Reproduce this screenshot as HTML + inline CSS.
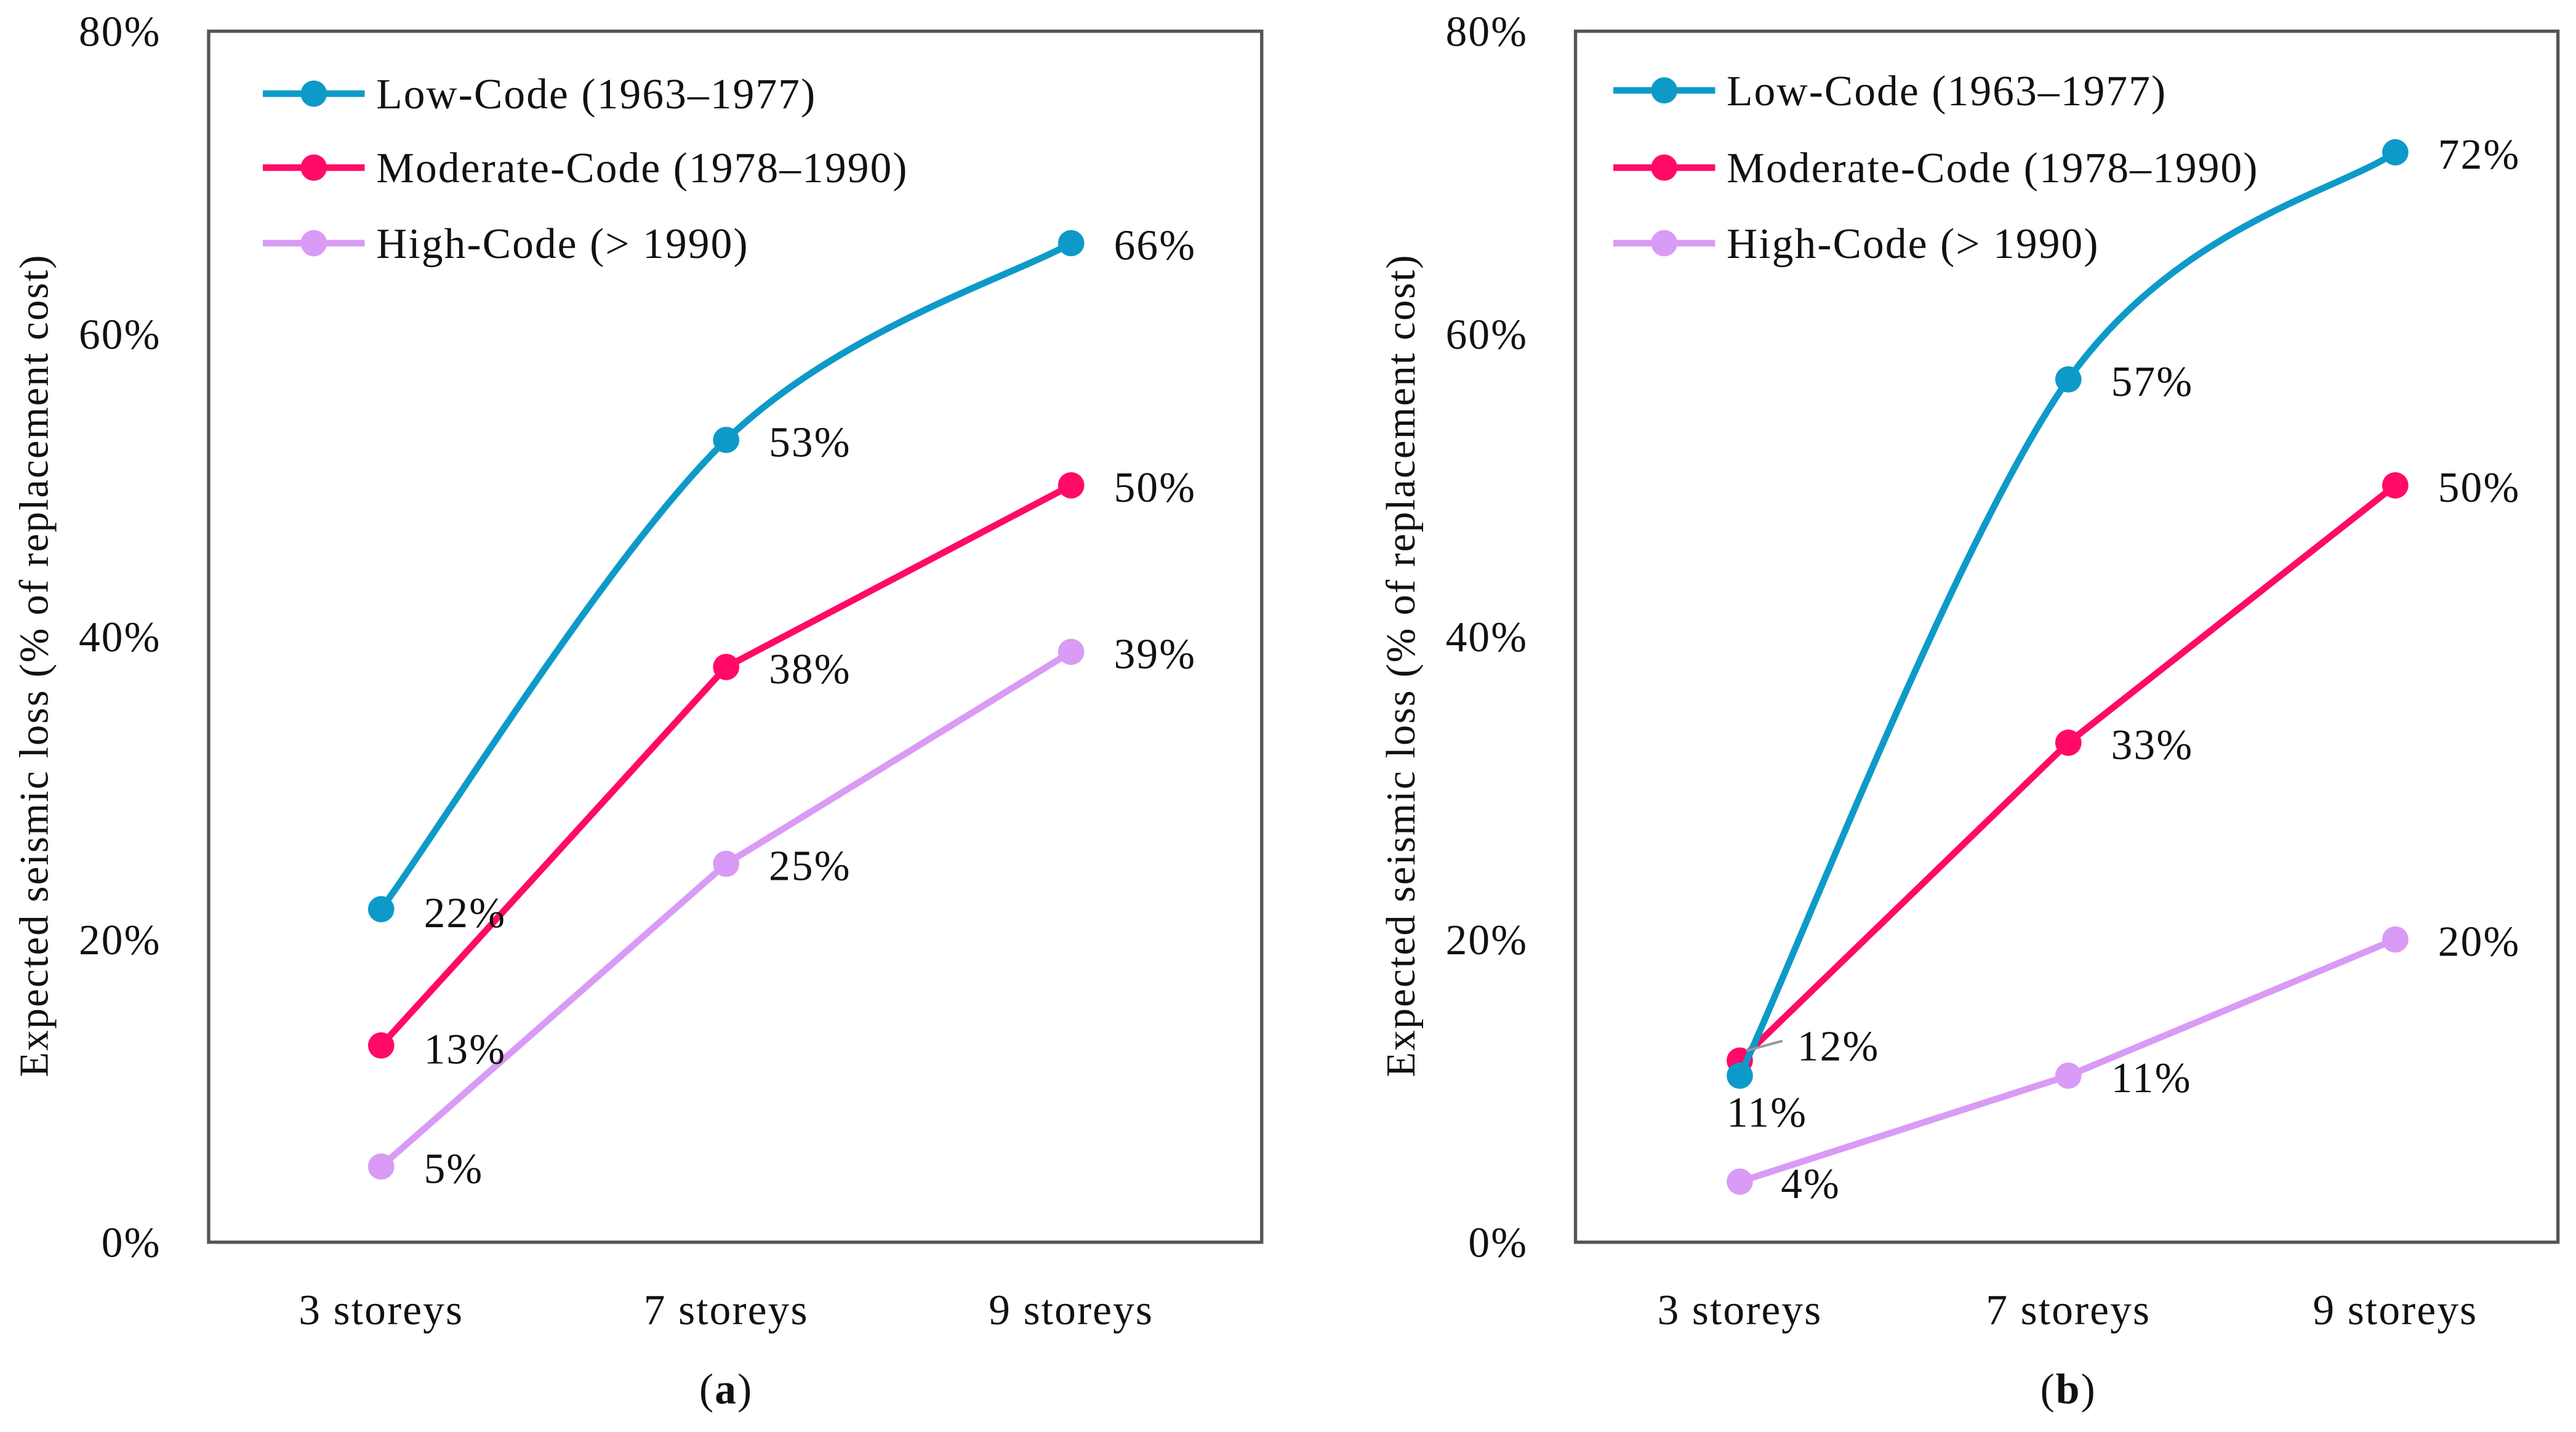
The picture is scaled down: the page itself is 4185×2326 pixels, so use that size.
<!DOCTYPE html>
<html><head><meta charset="utf-8"><style>
html,body{margin:0;padding:0;background:#fff}
svg{display:block}
text{font-family:"Liberation Serif",serif;fill:#111;letter-spacing:0.8px}
</style></head><body>
<svg id="chart" width="4185" height="2326" viewBox="0 0 1568 871.5" preserveAspectRatio="none" xmlns="http://www.w3.org/2000/svg"></svg>
<script>
const categories = ["3 storeys","7 storeys","9 storeys"];
const yTicks = [0,20,40,60,80];
const seriesNames = ["Low-Code (1963\u20131977)","Moderate-Code (1978\u20131990)","High-Code (> 1990)"];
const lowA = [22,53,66];
const modA = [13,38,50];
const highA = [5,25,39];
const lowB = [11,57,72];
const modB = [12,33,50];
const highB = [4,11,20];
const colors = ["#0E9AC9","#FF0A66","#D99BF5"];
const smooth = [true,false,false];

const svg = document.getElementById('chart');
const NS = "http://www.w3.org/2000/svg";
function mk(tag, attrs, parent){const e=document.createElementNS(NS,tag);for(const k in attrs)e.setAttribute(k,attrs[k]);(parent||svg).appendChild(e);return e;}

function panel(cfg){
  const g = mk('g',{});
  
  
  const y = v => cfg.bottom - (v/80)*(cfg.bottom-cfg.top);
  const x = i => cfg.cx[i];
  const box = mk('rect',{x:cfg.left,y:cfg.top,width:cfg.right-cfg.left,height:cfg.bottom-cfg.top,fill:'none',stroke:'#555','stroke-width':2},g);
  
  
  yTicks.forEach(t=>{
    const tx = mk('text',{x:cfg.left-29,y:y(t)+9,'text-anchor':'end','font-size':26},g);
    tx.textContent = t+'%';
    
    
  });
  categories.forEach((c,i)=>{
    const tx = mk('text',{x:x(i),y:806,'text-anchor':'middle','font-size':26,'letter-spacing':1.2},g);
    tx.textContent = c;
    
    
  });
  const yt = mk('text',{x:0,y:0,'text-anchor':'middle','font-size':25,'letter-spacing':1.3,transform:`translate(${cfg.left-98},405) rotate(-90)`},g);
  yt.textContent = 'Expected seismic loss (% of replacement cost)';
  
  
  const cap = mk('text',{x:cfg.cx[1],y:854,'text-anchor':'middle','font-size':26},g);
  cap.innerHTML = '(<tspan font-weight="bold">'+cfg.letter+'</tspan>)';
  
  
  [2,1,0].forEach(s=>{
    const vals = cfg.data[s];
    const P = vals.map((v,i)=>[x(i),y(v)]);
    let d = `M${P[0][0]},${P[0][1]}`;
    if(smooth[s]){
      for(let i=0;i<P.length-1;i++){
        const p0=P[Math.max(i-1,0)],p1=P[i],p2=P[i+1],p3=P[Math.min(i+2,P.length-1)];
        const c1=[p1[0]+(p2[0]-p0[0])/6,p1[1]+(p2[1]-p0[1])/6];
        const c2=[p2[0]-(p3[0]-p1[0])/6,p2[1]-(p3[1]-p1[1])/6];
        d+=` C${c1[0]},${c1[1]} ${c2[0]},${c2[1]} ${p2[0]},${p2[1]}`;
      }
    } else P.slice(1).forEach(p=>d+=` L${p[0]},${p[1]}`);
    const path = mk('path',{d:d,fill:'none',stroke:colors[s],'stroke-width':4,'stroke-linejoin':'round'},g);
    
    
    P.forEach((p,i)=>{
      const c = mk('circle',{cx:p[0],cy:p[1],r:8,fill:colors[s]},g);
      
      
      const off = (cfg.labelOff && cfg.labelOff[s] && cfg.labelOff[s][i]) || [26,10];
      const t = mk('text',{x:p[0]+off[0],y:p[1]+off[1],'font-size':26},g);
      t.textContent = vals[i]+'%';
      
      
    });
  });
  if(cfg.leader){
    const l = mk('line',{x1:x(0)+4,y1:y(cfg.data[1][0])-6,x2:x(0)+26,y2:y(cfg.data[1][0])-12,stroke:'#999','stroke-width':1.5},g);
    
    
  }
  const ly = cfg.legendY;
  seriesNames.forEach((n,s)=>{
    const lg = mk('g',{},g);
    
    
    mk('line',{x1:cfg.legendX,y1:ly[s],x2:cfg.legendX+62,y2:ly[s],stroke:colors[s],'stroke-width':4},lg);
    mk('circle',{cx:cfg.legendX+31,cy:ly[s],r:8,fill:colors[s]},lg);
    const t = mk('text',{x:cfg.legendX+69,y:ly[s]+9,'font-size':26},lg);
    t.textContent = n;
  });
}
panel({name:'chart-a',letter:'a',left:127,right:768,top:19,bottom:756,cx:[232,442,652],data:[lowA,modA,highA],legendX:160,legendY:[57,102,148],
  labelOff:[[[26,11],[26,10],[26,10]],[[26,11],[26,10],[26,10]],[[26,10],[26,10],[26,10]]]});
panel({name:'chart-b',letter:'b',left:959,right:1557,top:19,bottom:756,cx:[1059,1259,1458],data:[lowB,modB,highB],legendX:982,legendY:[55,102,148],leader:true,
  labelOff:[[[-8,31],[26,10],[26,10]],[[35,0],[26,10],[26,10]],[[25,10],[26,10],[26,10]]]});
</script>
</body></html>
